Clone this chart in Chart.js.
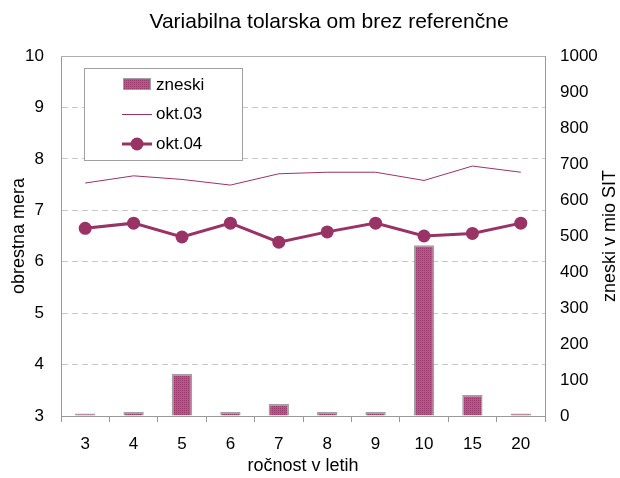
<!DOCTYPE html>
<html>
<head>
<meta charset="utf-8">
<script src="https://cdn.jsdelivr.net/npm/chart.js@4/dist/chart.umd.min.js"></script>
<style>
html,body{margin:0;padding:0;background:#fff;}
#wrap{width:620px;height:478px;position:relative;}
</style>
</head>
<body>
<div id="wrap"><canvas id="c" width="620" height="478"></canvas></div>
<script>
const categories = ['3','4','5','6','7','8','9','10','15','20'];
const zneski = [7, 11, 117, 11, 33, 11, 11, 474, 58, 7];
const okt03 = [7.53, 7.67, 7.60, 7.49, 7.71, 7.74, 7.74, 7.58, 7.86, 7.74];
const okt04 = [6.65, 6.75, 6.48, 6.75, 6.38, 6.58, 6.75, 6.50, 6.55, 6.75];
const leftTicks = [3,4,5,6,7,8,9,10];
const rightTicks = [0,100,200,300,400,500,600,700,800,900,1000];

const titleText = 'Variabilna tolarska om brez referenčne';
const rightTitle = 'zneski v mio SIT';
const FONT = "'Liberation Sans', Arial, sans-serif";
const PLUM = '#993366';

function makePattern(){
  const p = document.createElement('canvas');
  p.width = 2; p.height = 2;
  const g = p.getContext('2d');
  g.fillStyle = '#b75688'; g.fillRect(0,0,2,2);
  g.fillStyle = '#9a3a6a'; g.fillRect(0,0,1,1);
  return document.getElementById('c').getContext('2d').createPattern(p,'repeat');
}
const pattern = makePattern();

const framePlugin = {
  id:'frame',
  beforeDatasetsDraw(chart){
    const {ctx, chartArea:a} = chart;
    ctx.save();
    ctx.strokeStyle = '#b0b0b0'; ctx.lineWidth = 1;
    ctx.beginPath(); ctx.moveTo(a.left, a.top+0.5); ctx.lineTo(a.right, a.top+0.5); ctx.stroke();
    ctx.restore();
  },
  afterDraw(chart){
    const ctx = chart.ctx;
    const a = chart.chartArea;
    ctx.save();
    ctx.fillStyle = '#000';
    ctx.font = '21px ' + FONT;
    ctx.textAlign = 'center'; ctx.textBaseline = 'middle';
    ctx.fillText(titleText, 329, 22);
    ctx.save();
    ctx.translate(610, (a.top + a.bottom) / 2);
    ctx.rotate(-Math.PI/2);
    ctx.font = '18px ' + FONT;
    ctx.fillText(rightTitle, 0, 0);
    ctx.restore();
    const bx = 84.5, by = 68.5, bw = 158, bh = 92;
    ctx.fillStyle = '#fff'; ctx.fillRect(bx, by, bw, bh);
    ctx.strokeStyle = '#a0a0a0'; ctx.lineWidth = 1; ctx.strokeRect(bx, by, bw, bh);
    ctx.font = '17px ' + FONT; ctx.textAlign = 'left'; ctx.fillStyle = '#000';
    const ds = chart.data.datasets;
    ctx.fillStyle = pattern; ctx.fillRect(123, 78, 28, 12);
    ctx.strokeStyle = '#a0a0a0'; ctx.strokeRect(123.5, 78.5, 27, 11);
    ctx.fillStyle = '#000'; ctx.fillText(ds[0].label, 156, 85);
    ctx.strokeStyle = PLUM; ctx.lineWidth = 1;
    ctx.beginPath(); ctx.moveTo(122, 114.5); ctx.lineTo(152, 114.5); ctx.stroke();
    ctx.fillText(ds[1].label, 156, 114);
    ctx.lineWidth = 3;
    ctx.beginPath(); ctx.moveTo(122, 144); ctx.lineTo(152, 144); ctx.stroke();
    ctx.fillStyle = PLUM; ctx.beginPath(); ctx.arc(137, 144, 6.5, 0, Math.PI*2); ctx.fill();
    ctx.fillStyle = '#000'; ctx.fillText(ds[2].label, 156, 144);
    ctx.restore();
  }
};

new Chart(document.getElementById('c'), {
  data: {
    labels: categories,
    datasets: [
      { type:'bar', label:'zneski', data: zneski, yAxisID:'y2', backgroundColor: pattern,
        borderColor:'#a0a0a0', borderWidth:1.5, barPercentage:0.42, categoryPercentage:1, order:3 },
      { type:'line', label:'okt.03', data: okt03, yAxisID:'y', borderColor: PLUM, borderWidth:1,
        pointRadius:0, tension:0, order:2 },
      { type:'line', label:'okt.04', data: okt04, yAxisID:'y', borderColor: PLUM, backgroundColor: PLUM,
        borderWidth:3, pointRadius:6.5, pointBackgroundColor: PLUM, pointBorderWidth:0, tension:0, order:1 }
    ]
  },
  options: {
    responsive:false, animation:false, devicePixelRatio:1,
    layout:{ padding:{ top:56, bottom:0, left:0, right:0 } },
    plugins:{ legend:{display:false}, title:{display:false}, tooltip:{enabled:false} },
    scales:{
      x:{
        offset:true,
        grid:{ offset:true, drawOnChartArea:false, drawTicks:true, tickLength:6, color:'#999' },
        border:{ color:'#999', width:1 },
        ticks:{ color:'#000', font:{ family:FONT, size:17 }, padding:12, maxRotation:0 },
        title:{ display:true, text:'ročnost v letih', color:'#000', font:{ family:FONT, size:18 }, padding:{top:0,bottom:1} },
        afterFit(s){ s.height = 62; }
      },
      y:{
        position:'left', min:3, max:10,
        afterBuildTicks(s){ s.ticks = leftTicks.map(v=>({value:v})); },
        grid:{ drawTicks:false, color:(c)=> (c.tick && (c.tick.value===3||c.tick.value===10)) ? 'rgba(0,0,0,0)' : '#c8c8c8', lineWidth:1 },
        border:{ color:'#999', width:1, dash:[6,4] },
        ticks:{ color:'#000', font:{ family:FONT, size:17 }, padding:17, callback:(v)=>String(v) },
        title:{ display:true, text:'obrestna mera', color:'#000', font:{ family:FONT, size:18 }, padding:{top:8,bottom:0} },
        afterFit(s){ s.width = 61; }
      },
      y2:{
        position:'right', min:0, max:1000,
        afterBuildTicks(s){ s.ticks = rightTicks.map(v=>({value:v})); },
        grid:{ drawOnChartArea:false, drawTicks:false },
        border:{ color:'#999', width:1 },
        ticks:{ color:'#000', font:{ family:FONT, size:17 }, padding:15, callback:(v)=>String(v) },
        title:{ display:false },
        afterFit(s){ s.width = 75; }
      }
    }
  },
  plugins:[framePlugin]
});
</script>
</body>
</html>
